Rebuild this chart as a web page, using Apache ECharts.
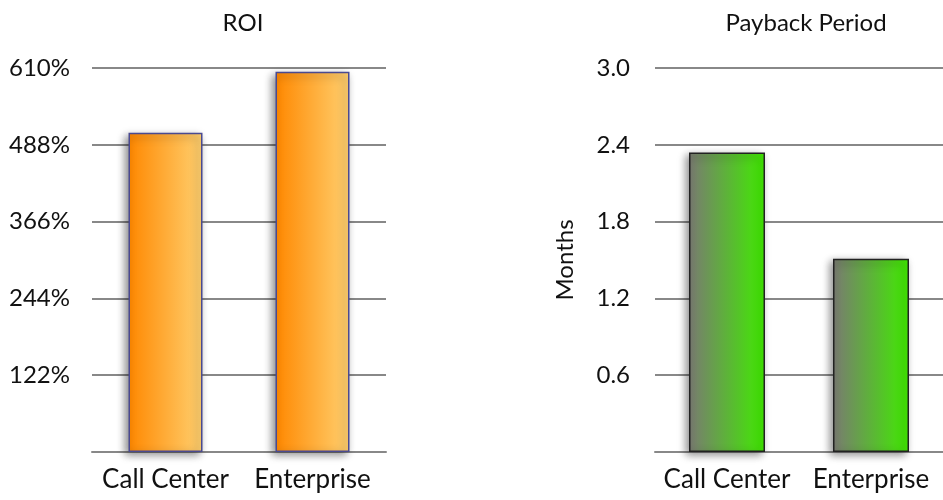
<!DOCTYPE html>
<html>
<head>
<meta charset="utf-8">
<script src="https://cdn.jsdelivr.net/npm/echarts@6/dist/echarts.min.js"></script>
<style>html,body{margin:0;padding:0;background:#fff;}#c{width:943px;height:500px;}</style>
</head>
<body>
<div id="c"></div>
<script>
const categories = ['Call Center', 'Enterprise'];
const roiValues = [507, 604];
const paybackValues = [2.34, 1.51];
const roiTicks = [0, 122, 244, 366, 488, 610];
const paybackTicks = [0, 0.6, 1.2, 1.8, 2.4, 3.0];

const chart = echarts.init(document.getElementById('c'));
const font = 'Lato';
const txt = '#111';
const orange = new echarts.graphic.LinearGradient(0, 0, 1, 0, [
  {offset: 0, color: '#ff8800'}, {offset: 1, color: '#ffd070'}]);
const green = new echarts.graphic.LinearGradient(0, 0, 1, 0, [
  {offset: 0, color: '#7a7a72'}, {offset: 1, color: '#40ec00'}]);

chart.setOption({
  animation: false,
  title: [
    {text: 'ROI', left: 238, top: 6, textAlign: 'center', textStyle: {fontFamily: font, fontSize: 24, fontWeight: 'normal', color: txt}},
    {text: 'Payback Period', left: 801, top: 6, textAlign: 'center', textStyle: {fontFamily: font, fontSize: 24, fontWeight: 'normal', color: txt}}
  ],
  grid: [
    {left: 92, top: 68, width: 294, height: 384},
    {left: 655, top: 68, width: 296, height: 384}
  ],
  xAxis: [0, 1].map(i => ({
    type: 'category', gridIndex: i, data: categories,
    axisLine: {lineStyle: {color: '#888', width: 2}},
    axisTick: {show: false},
    axisLabel: {fontFamily: font, fontSize: 26, color: txt, margin: 15, interval: 0, hideOverlap: false}
  })),
  yAxis: [
    {type: 'value', gridIndex: 0, min: roiTicks[0], max: roiTicks[roiTicks.length - 1], interval: roiTicks[1] - roiTicks[0],
     axisLine: {show: false}, axisTick: {show: false},
     splitLine: {lineStyle: {color: '#888', width: 2}},
     axisLabel: {fontFamily: font, fontSize: 24, color: txt, margin: 22, formatter: v => v === 0 ? '' : v + '%'}},
    {type: 'value', gridIndex: 1, min: paybackTicks[0], max: paybackTicks[paybackTicks.length - 1], interval: paybackTicks[1] - paybackTicks[0],
     name: 'Months', nameLocation: 'middle', nameGap: 78, nameRotate: 90,
     nameTextStyle: {fontFamily: font, fontSize: 24, color: txt},
     axisLine: {show: false}, axisTick: {show: false},
     splitLine: {lineStyle: {color: '#888', width: 2}},
     axisLabel: {fontFamily: font, fontSize: 24, color: txt, margin: 25, formatter: v => v === 0 ? '' : v.toFixed(1)}}
  ],
  series: [
    {type: 'bar', xAxisIndex: 0, yAxisIndex: 0, data: roiValues, barWidth: 74,
     itemStyle: {color: orange, borderColor: '#4a4a90', borderWidth: 1.5, shadowColor: 'rgba(0,0,0,0.45)', shadowBlur: 8, shadowOffsetX: -3, shadowOffsetY: 3}},
    {type: 'bar', xAxisIndex: 1, yAxisIndex: 1, data: paybackValues, barWidth: 76,
     itemStyle: {color: green, borderColor: '#222', borderWidth: 1.5, shadowColor: 'rgba(0,0,0,0.45)', shadowBlur: 8, shadowOffsetX: -3, shadowOffsetY: 3}}
  ]
});
</script>
</body>
</html>
